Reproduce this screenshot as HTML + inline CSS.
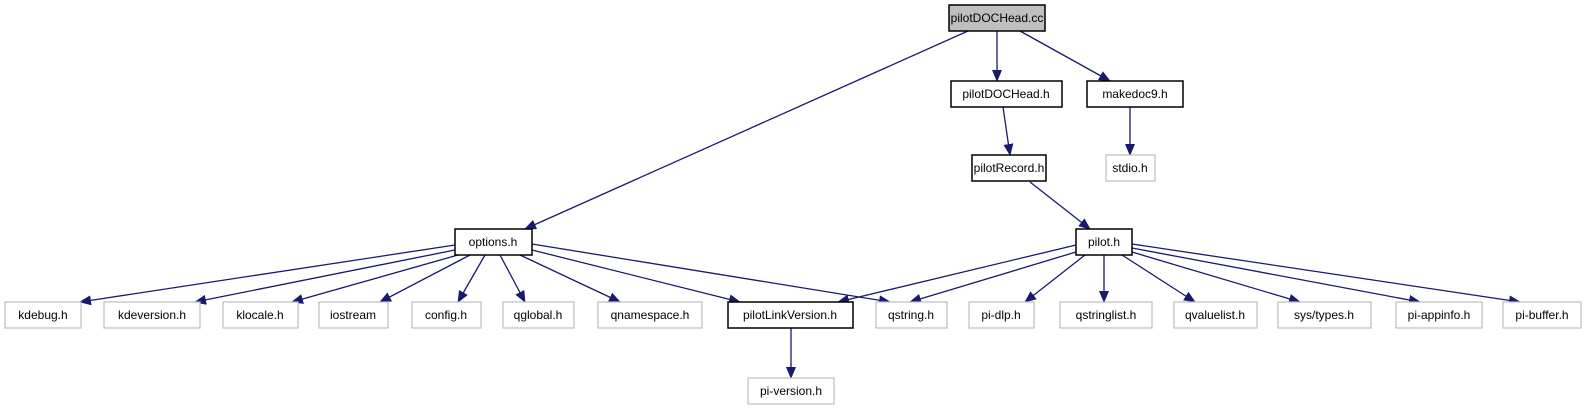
<!DOCTYPE html>
<html><head><meta charset="utf-8"><style>
html,body{margin:0;padding:0;background:#fff;}
svg{display:block;}
text{font-family:"Liberation Sans",sans-serif;font-size:12px;fill:#000;}
</style></head><body>
<svg width="1589" height="411" viewBox="0 0 1589 411" xmlns="http://www.w3.org/2000/svg">
<defs>
<marker id="a" markerUnits="userSpaceOnUse" markerWidth="12" markerHeight="10" refX="11" refY="5" orient="auto">
<path d="M0,0 L12,5 L0,10 Z" fill="#191970"/>
</marker>
</defs>
<g stroke="#191970" stroke-width="1.3" fill="none" marker-end="url(#a)">
<line x1="968" y1="31" x2="525" y2="229"/>
<line x1="997" y1="31" x2="997" y2="81"/>
<line x1="1020" y1="31" x2="1110" y2="81"/>
<line x1="1003" y1="107" x2="1010" y2="155"/>
<line x1="1130" y1="107" x2="1130" y2="155"/>
<line x1="1030" y1="182" x2="1090" y2="229"/>
<line x1="455" y1="245" x2="80" y2="302"/>
<line x1="455" y1="250" x2="195" y2="302"/>
<line x1="458" y1="255" x2="292" y2="302"/>
<line x1="470" y1="255" x2="380" y2="302"/>
<line x1="485" y1="255" x2="458" y2="302"/>
<line x1="500" y1="255" x2="525" y2="302"/>
<line x1="520" y1="255" x2="620" y2="302"/>
<line x1="532" y1="250" x2="740" y2="302"/>
<line x1="532" y1="244" x2="890" y2="302"/>
<line x1="1076" y1="245" x2="838" y2="302"/>
<line x1="1076" y1="252" x2="910" y2="302"/>
<line x1="1085" y1="255" x2="1025" y2="302"/>
<line x1="1104" y1="255" x2="1104" y2="302"/>
<line x1="1122" y1="255" x2="1195" y2="302"/>
<line x1="1132" y1="252" x2="1300" y2="302"/>
<line x1="1132" y1="248" x2="1420" y2="302"/>
<line x1="1132" y1="244" x2="1520" y2="302"/>
<line x1="791" y1="328" x2="791" y2="378"/>
</g>
<g stroke-width="1.2">
<rect x="949" y="5" width="96" height="26" fill="#bfbfbf" stroke="#000" stroke-width="1.5"/>
<rect x="951" y="81" width="111" height="26" fill="#fff" stroke="#000" stroke-width="1.5"/>
<rect x="1087" y="81" width="96" height="26" fill="#fff" stroke="#000" stroke-width="1.5"/>
<rect x="1106" y="155" width="49" height="26" fill="#fff" stroke="#bfbfbf"/>
<rect x="972" y="155" width="74" height="26" fill="#fff" stroke="#000" stroke-width="1.5"/>
<rect x="1076" y="229" width="56" height="26" fill="#fff" stroke="#000" stroke-width="1.5"/>
<rect x="455" y="229" width="77" height="26" fill="#fff" stroke="#000" stroke-width="1.5"/>
<rect x="5" y="302" width="76" height="26" fill="#fff" stroke="#bfbfbf"/>
<rect x="104" y="302" width="96" height="26" fill="#fff" stroke="#bfbfbf"/>
<rect x="223" y="302" width="75" height="26" fill="#fff" stroke="#bfbfbf"/>
<rect x="319" y="302" width="69" height="26" fill="#fff" stroke="#bfbfbf"/>
<rect x="412" y="302" width="69" height="26" fill="#fff" stroke="#bfbfbf"/>
<rect x="503" y="302" width="71" height="26" fill="#fff" stroke="#bfbfbf"/>
<rect x="598" y="302" width="104" height="26" fill="#fff" stroke="#bfbfbf"/>
<rect x="728" y="302" width="125" height="26" fill="#fff" stroke="#000" stroke-width="1.5"/>
<rect x="876" y="302" width="71" height="26" fill="#fff" stroke="#bfbfbf"/>
<rect x="969" y="302" width="65" height="26" fill="#fff" stroke="#bfbfbf"/>
<rect x="1060" y="302" width="92" height="26" fill="#fff" stroke="#bfbfbf"/>
<rect x="1174" y="302" width="83" height="26" fill="#fff" stroke="#bfbfbf"/>
<rect x="1278" y="302" width="93" height="26" fill="#fff" stroke="#bfbfbf"/>
<rect x="1396" y="302" width="86" height="26" fill="#fff" stroke="#bfbfbf"/>
<rect x="1503" y="302" width="78" height="26" fill="#fff" stroke="#bfbfbf"/>
<rect x="748" y="378" width="86" height="26" fill="#fff" stroke="#bfbfbf"/>
</g>
<g text-anchor="middle">
<text x="997" y="22">pilotDOCHead.cc</text>
<text x="1006" y="98">pilotDOCHead.h</text>
<text x="1135" y="98">makedoc9.h</text>
<text x="1130" y="172">stdio.h</text>
<text x="1009" y="172">pilotRecord.h</text>
<text x="1104" y="246">pilot.h</text>
<text x="493" y="246">options.h</text>
<text x="43" y="319">kdebug.h</text>
<text x="152" y="319">kdeversion.h</text>
<text x="260" y="319">klocale.h</text>
<text x="353" y="319">iostream</text>
<text x="446" y="319">config.h</text>
<text x="538" y="319">qglobal.h</text>
<text x="650" y="319">qnamespace.h</text>
<text x="790" y="319">pilotLinkVersion.h</text>
<text x="911" y="319">qstring.h</text>
<text x="1001" y="319">pi-dlp.h</text>
<text x="1106" y="319">qstringlist.h</text>
<text x="1215" y="319">qvaluelist.h</text>
<text x="1324" y="319">sys/types.h</text>
<text x="1439" y="319">pi-appinfo.h</text>
<text x="1542" y="319">pi-buffer.h</text>
<text x="791" y="395">pi-version.h</text>
</g>
</svg>
</body></html>
